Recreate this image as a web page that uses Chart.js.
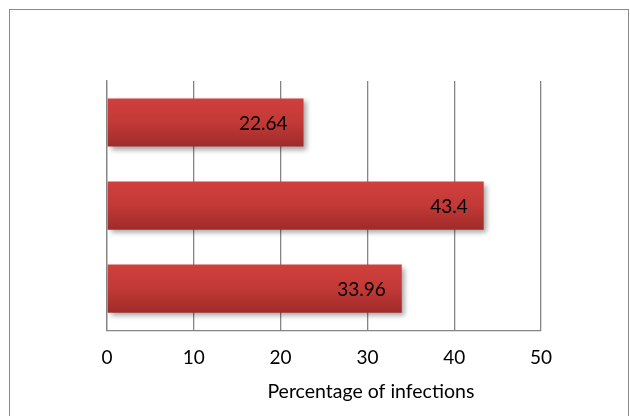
<!DOCTYPE html>
<html>
<head>
<meta charset="utf-8">
<script src="https://cdn.jsdelivr.net/npm/chart.js@4"></script>
<style>
  html, body { margin: 0; padding: 0; background: #fff; }
  canvas { display: block; }
</style>
</head>
<body>
<canvas id="chart" width="630" height="416"></canvas>
<script>
// horizontal bar chart — share of infections per group

const categories = ['Group 1', 'Group 2', 'Group 3'];   // not shown on the axis
const infections = [22.64, 43.4, 33.96];
const xTicks = [0, 10, 20, 30, 40, 50];
const xTitle = 'Percentage of infections';

const FONT = 'Lato, "Open Sans", sans-serif';
const GRID = '#858585';

// red gradient, lighter on top, per bar
function barFill(context) {
  const chart = context.chart;
  const y = chart.scales.y;
  if (!chart.chartArea || !y) return '#c23a38';
  const centre = y.getPixelForValue(context.dataIndex);
  const half = (y.height / categories.length) * 0.58 / 2;
  const g = chart.ctx.createLinearGradient(0, centre - half, 0, centre + half);
  g.addColorStop(0, '#d0403d');
  g.addColorStop(0.5, '#c23936');
  g.addColorStop(1, '#9f2b2a');
  return g;
}

const chart = new Chart(document.getElementById('chart').getContext('2d'), {
  type: 'bar',
  data: {
    labels: categories,
    datasets: [{
      data: infections,
      backgroundColor: barFill,
      borderWidth: 0,
      barPercentage: 0.58,
      categoryPercentage: 1
    }]
  },
  options: {
    indexAxis: 'y',
    responsive: false,
    animation: false,
    layout: { padding: { left: 107, right: 89, top: 81, bottom: 31 } },
    plugins: { legend: { display: false }, tooltip: { enabled: false } },
    scales: {
      x: {
        min: 0,
        max: 50,
        afterBuildTicks: axis => { axis.ticks = xTicks.map(v => ({ value: v })); },
        grid: { color: GRID, lineWidth: 1.3, drawTicks: false },
        border: { display: true, color: GRID, width: 1.3 },
        ticks: { color: '#000', padding: 16, font: { family: FONT, size: 19 } }
      },
      y: {
        grid: { display: false, drawTicks: false },
        border: { display: true, color: GRID, width: 1.3 },
        ticks: { display: false }
      }
    }
  },
  plugins: [{
    id: 'frameShadowLabels',
    beforeDraw(chart) {
      const { ctx } = chart;
      ctx.save();
      ctx.strokeStyle = '#8a8a8a';
      ctx.lineWidth = 1;
      ctx.strokeRect(9.5, 9.5, 619, 430);
      ctx.restore();
    },
    beforeDatasetsDraw(chart) {
      const { ctx } = chart;
      ctx.save();
      ctx.shadowColor = 'rgba(0,0,0,0.35)';
      ctx.shadowBlur = 5;
      ctx.shadowOffsetX = 3;
      ctx.shadowOffsetY = 3;
    },
    afterDatasetsDraw(chart) {
      const { ctx } = chart;
      ctx.restore();
      ctx.save();
      ctx.font = '19px ' + FONT;
      ctx.fillStyle = '#000';
      ctx.textAlign = 'right';
      ctx.textBaseline = 'middle';
      chart.getDatasetMeta(0).data.forEach((bar, i) => {
        ctx.fillText(String(infections[i]), bar.x - 16, bar.y + 1);
      });
      // axis title sits right of centre in the original
      const x = chart.scales.x;
      ctx.font = '19.5px ' + FONT;
      ctx.textAlign = 'center';
      ctx.fillText(xTitle, x.getPixelForValue(30.4), 392);
      ctx.restore();
    }
  }]
});
</script>
</body>
</html>
